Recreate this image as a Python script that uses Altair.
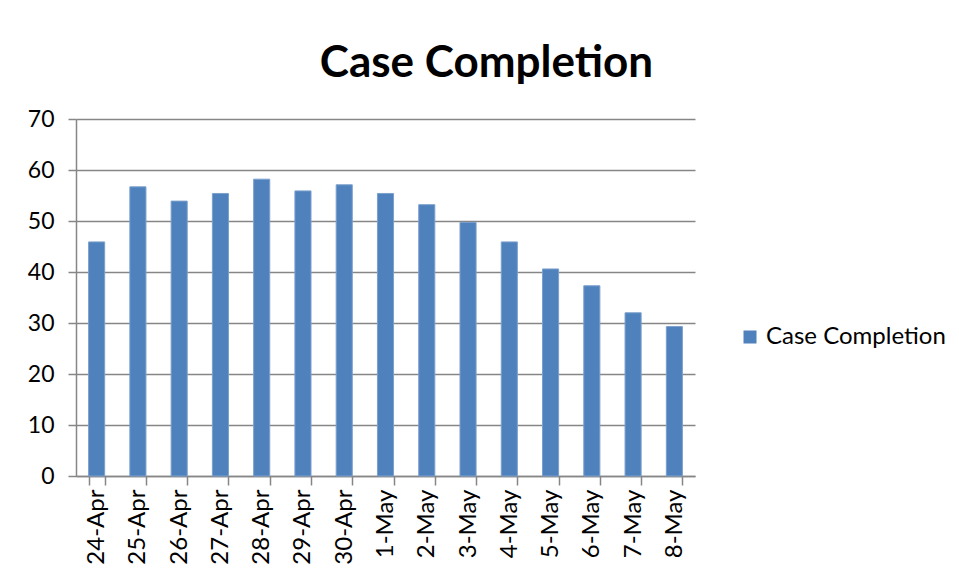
import altair as alt
import pandas as pd

dates = ["24-Apr", "25-Apr", "26-Apr", "27-Apr", "28-Apr", "29-Apr", "30-Apr",
         "1-May", "2-May", "3-May", "4-May", "5-May", "6-May", "7-May", "8-May"]
values = [45.9, 56.7, 53.9, 55.4, 58.2, 55.9, 57.1,
          55.4, 53.2, 49.7, 45.9, 40.6, 37.3, 32.0, 29.3]
series_name = "Case Completion"
y_ticks = [0, 10, 20, 30, 40, 50, 60, 70]

df = pd.DataFrame({"date": dates, "value": values, "series": [series_name] * len(dates)})

FONT = "Lato"

bars = alt.Chart(df).mark_bar(
    color="#4F81BD", stroke="#7BA0CD", strokeWidth=1
).encode(
    x=alt.X("date:N", sort=dates, title=None,
            scale=alt.Scale(paddingInner=0.61, paddingOuter=0.305),
            axis=alt.Axis(labelAngle=-90, labelAlign="right", labelBaseline="middle",
                          labelFont=FONT, labelFontSize=24, labelColor="#000000",
                          labelPadding=4, tickBand="extent", tickSize=9,
                          tickColor="#868686", tickWidth=1.5,
                          domainColor="#868686", domainWidth=1.5, grid=False)),
    y=alt.Y("value:Q", title=None,
            scale=alt.Scale(domain=[0, 70], nice=False),
            axis=alt.Axis(values=y_ticks, labelFont=FONT, labelFontSize=23,
                          labelColor="#000000", labelPadding=14, tickSize=8,
                          tickColor="#868686", tickWidth=1.5,
                          domainColor="#868686", domainWidth=1.5,
                          grid=True, gridColor="#868686", gridWidth=1.5)),
    color=alt.Color("series:N", scale=alt.Scale(range=["#4F81BD"]),
                    legend=alt.Legend(title=None, orient="none", legendX=662, legendY=206,
                                      symbolType="square", symbolSize=169,
                                      symbolStrokeWidth=0, labelLimit=400,
                                      labelFont=FONT, labelFontSize=24,
                                      labelColor="#000000", labelOffset=4)),
).properties(
    width=619,
    height=357,
    title=alt.TitleParams(text="Case Completion", font=FONT, fontSize=44,
                          fontWeight="bold", color="#000000", anchor="middle",
                          dx=101, offset=22),
    autosize=alt.AutoSizeParams(type="none"),
    padding={"left": 68, "top": 111, "right": 256, "bottom": 95},
).configure_view(stroke=None)

chart = bars
chart.save("out.html", embed_options={"renderer": "svg", "actions": False})
